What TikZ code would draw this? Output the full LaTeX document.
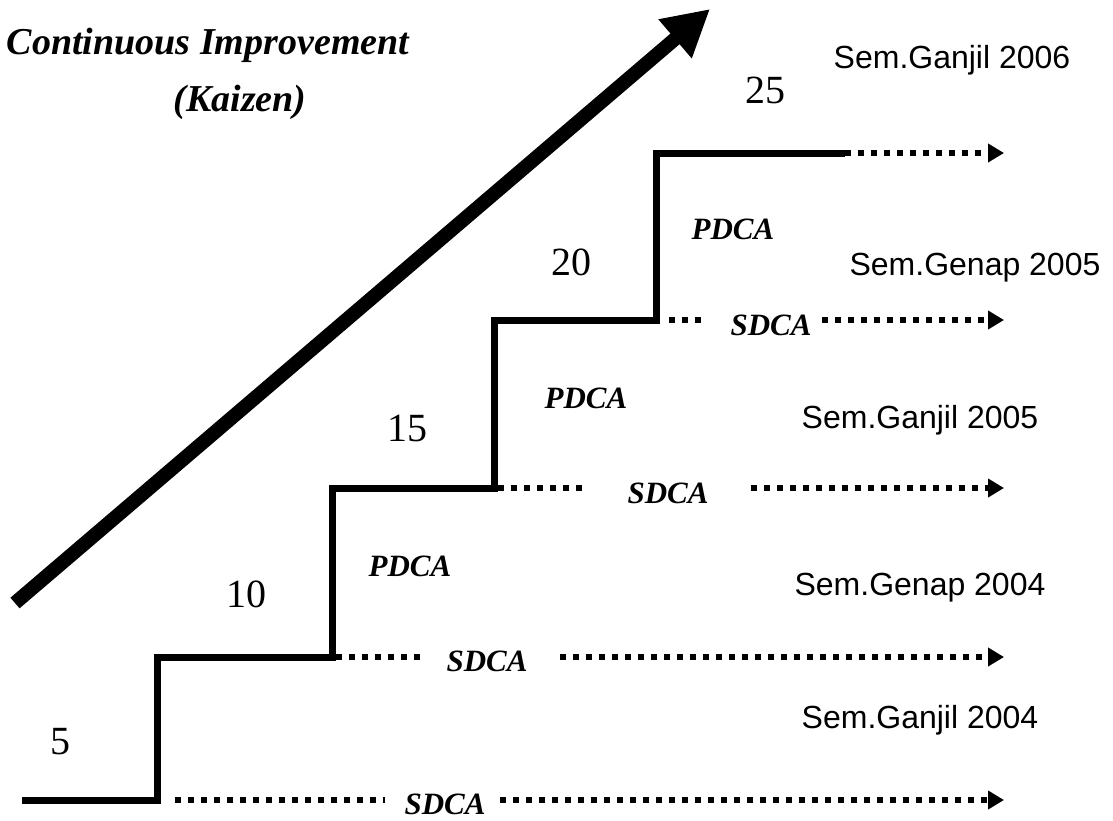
\documentclass[tikz,border=0pt]{standalone}
\usepackage{fontspec}
\setmainfont{Liberation Serif}
\newfontfamily\arialfont{Liberation Sans}
\usetikzlibrary{arrows.meta,calc}
\usetikzlibrary{positioning}

\tikzset{
  tangga/.style={line width=3.5pt, line join=miter},
  titik/.style={line width=3pt, dash pattern=on 3pt off 3.5pt},
  titikpanah/.style={titik, -{Triangle[length=8pt,width=9pt]}},
  siklus/.style={font=\fontsize{15.5}{19}\selectfont\bfseries\itshape, inner sep=1pt},
  angka/.style={font=\fontsize{20}{24}\selectfont, inner sep=0pt},
  semester/.style={font=\arialfont\fontsize{16}{19}\selectfont, inner sep=0pt},
  judulfont/.style={font=\fontsize{19}{23}\selectfont\bfseries\itshape}
}

\begin{document}
\begin{tikzpicture}[x=0.5pt,y=-0.5pt]
\useasboundingbox (0,0) rectangle (1113,820);

% judul dan panah besar
\node[judulfont] (judul) at (208,45) {Continuous Improvement};
\node[judulfont] (kaizen) at (240,102) {(Kaizen)};
\coordinate (ekor) at (15,603);
\coordinate (ujung) at (710,9);
\draw[line width=7pt, -{Triangle[length=23pt,width=24pt]}] (ekor) -- (ujung);

% tangga
\coordinate (t0) at (22,800);
\coordinate (t1) at (157,800);
\coordinate (t2) at (157,657);
\coordinate (t3) at (332,657);
\coordinate (t4) at (332,488);
\coordinate (t5) at (494,488);
\coordinate (t6) at (494,320);
\coordinate (t7) at (656,320);
\coordinate (t8) at (656,153);
\coordinate (t9) at (845,153);
\draw[tangga] (t0) -- (t1) -- (t2) -- (t3) -- (t4) -- (t5) -- (t6) -- (t7) -- (t8) -- (t9);

% garis SDCA
\node[siklus] (sd1) at (445,804) {SDCA};
\node[siklus] (sd2) at (487,661) {SDCA};
\node[siklus] (sd3) at (668,493) {SDCA};
\node[siklus] (sd4) at (771,325) {SDCA};

\coordinate (a1) at (175,800);  \coordinate (b1) at (385,800);
\coordinate (c1) at (500,800);  \coordinate (e1) at (1004,800);
\coordinate (a2) at (336,657);  \coordinate (b2) at (422,657);
\coordinate (c2) at (560,657);  \coordinate (e2) at (1004,657);
\coordinate (a3) at (498,488);  \coordinate (b3) at (584,488);
\coordinate (c3) at (751,488);  \coordinate (e3) at (1004,488);
\coordinate (a4) at (669,320);  \coordinate (b4) at (705,320);
\coordinate (c4) at (822,320);  \coordinate (e4) at (1004,320);
\coordinate (e5) at (1004,153);

\draw[titik] (a1) -- (b1);
\draw[titikpanah] (c1) -- (e1);
\draw[titik] (a2) -- (b2);
\draw[titikpanah] (c2) -- (e2);
\draw[titik] (a3) -- (b3);
\draw[titikpanah] (c3) -- (e3);
\draw[titik] (a4) -- (b4);
\draw[titikpanah] (c4) -- (e4);
\draw[titikpanah] (t9) -- (e5);

% PDCA
\node[siklus] (pd1) at (410,566) {PDCA};
\node[siklus] (pd2) at (586,398) {PDCA};
\node[siklus] (pd3) at (733,229) {PDCA};

% angka
\node[angka] (n5) at (60,742) {5};
\node[angka] (n10) at (246,594) {10};
\node[angka] (n15) at (407,428) {15};
\node[angka] (n20) at (571,262) {20};
\node[angka] (n25) at (765,90) {25};

% semester
\node[semester] (s1) at (920,720) {Sem.Ganjil 2004};
\node[semester] (s2) at (920,588) {Sem.Genap 2004};
\node[semester] (s3) at (920,420) {Sem.Ganjil 2005};
\node[semester] (s4) at (975,268) {Sem.Genap 2005};
\node[semester] (s5) at (952,60) {Sem.Ganjil 2006};

\end{tikzpicture}
\end{document}
